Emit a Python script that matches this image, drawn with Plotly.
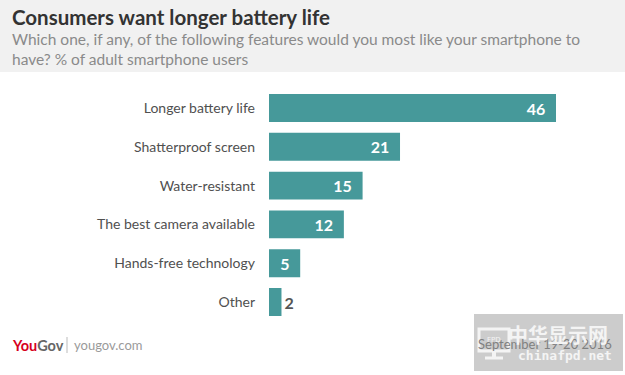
import plotly.graph_objects as go

categories = ["Longer battery life", "Shatterproof screen", "Water-resistant",
              "The best camera available", "Hands-free technology", "Other"]
values = [46, 21, 15, 12, 5, 2]

W, H = 625, 375
x0, x46 = 269, 556
ytop, ybot = 88.6, 321.4

text_pos = ["inside" if v >= 5 else "outside" for v in values]
labels = [f"{v}\u00a0\u00a0" if v >= 5 else str(v) for v in values]

fig = go.Figure(go.Bar(
    x=values, y=categories, orientation="h",
    marker=dict(color="#46999a", line=dict(width=0)),
    text=labels, textposition=text_pos,
    insidetextanchor="end",
    textfont=dict(family="Lato, sans-serif", size=16, color="#ffffff", weight="bold"),
    outsidetextfont=dict(family="Lato, sans-serif", size=16, color="#555555", weight="bold"),
    cliponaxis=False, hoverinfo="skip",
))

fig.update_layout(
    width=W, height=H,
    margin=dict(l=0, r=0, t=0, b=0),
    paper_bgcolor="white", plot_bgcolor="white",
    showlegend=False, bargap=0.28,
    xaxis=dict(domain=[x0 / W, x46 / W], range=[0, 46], visible=False, fixedrange=True),
    yaxis=dict(domain=[1 - ybot / H, 1 - ytop / H], autorange="reversed",
               showgrid=False, zeroline=False, showline=False, ticks="",
               ticklabelstandoff=13, fixedrange=True,
               tickfont=dict(family="Lato, sans-serif", size=14, color="#505050")),
    shapes=[
        dict(type="rect", xref="paper", yref="paper", x0=0, x1=1, y0=1 - 72 / H, y1=1,
             fillcolor="#f1f1f1", line=dict(width=0), layer="below"),
        dict(type="line", xref="paper", yref="paper", x0=67 / W, x1=67 / W,
             y0=1 - 353 / H, y1=1 - 337 / H, line=dict(color="#bbbbbb", width=1)),
        dict(type="rect", xref="paper", yref="paper", x0=474 / W, x1=623 / W,
             y0=1 - 371 / H, y1=1 - 314 / H, fillcolor="rgba(195,195,195,0.85)",
             line=dict(width=0)),
        dict(type="rect", xref="paper", yref="paper", x0=479 / W, x1=509 / W,
             y0=1 - 351 / H, y1=1 - 329 / H, fillcolor="rgba(0,0,0,0)",
             line=dict(color="#f4f4f4", width=3)),
        dict(type="line", xref="paper", yref="paper", x0=494 / W, x1=494 / W,
             y0=1 - 358 / H, y1=1 - 351 / H, line=dict(color="#f4f4f4", width=4)),
        dict(type="line", xref="paper", yref="paper", x0=485 / W, x1=503 / W,
             y0=1 - 358 / H, y1=1 - 358 / H, line=dict(color="#f4f4f4", width=3)),
    ],
    annotations=[
        dict(text="<b>Consumers want longer battery life</b>", xref="paper", yref="paper",
             x=10 / W, y=1 - 3 / H, xanchor="left", yanchor="top", showarrow=False,
             font=dict(family="Lato, sans-serif", size=20.5, color="#333333")),
        dict(text="Which one, if any, of the following features would you most like your smartphone to<br>have? % of adult smartphone users",
             xref="paper", yref="paper", x=10 / W, y=1 - 28 / H, xanchor="left", yanchor="top",
             showarrow=False, align="left",
             font=dict(family="Lato, sans-serif", size=15.5, color="#8a8a8a")),
        dict(text="<b><span style='color:#d6001c'>You</span><span style='color:#666666'>Gov</span></b>",
             xref="paper", yref="paper", x=10 / W, y=1 - 345 / H, xanchor="left", yanchor="middle",
             showarrow=False, font=dict(family="Lato, sans-serif", size=14.5)),
        dict(text="yougov.com", xref="paper", yref="paper", x=72 / W, y=1 - 345 / H,
             xanchor="left", yanchor="middle", showarrow=False,
             font=dict(family="Lato, sans-serif", size=13, color="#9a9a9a")),
        dict(text="September 19-20 2016", xref="paper", yref="paper", x=614 / W, y=1 - 344 / H,
             xanchor="right", yanchor="middle", showarrow=False,
             font=dict(family="Lato, sans-serif", size=13, color="#808080")),
        dict(text="FPD", xref="paper", yref="paper", x=494 / W, y=1 - 340 / H,
             xanchor="center", yanchor="middle", showarrow=False,
             font=dict(family="DejaVu Sans, sans-serif", size=7, color="#f4f4f4")),
        dict(text="<b>中华显示网</b>", xref="paper", yref="paper", x=610 / W, y=1 - 334 / H,
             xanchor="right", yanchor="middle", showarrow=False,
             font=dict(family="Noto Sans CJK SC, sans-serif", size=20, color="#f4f4f4")),
        dict(text="<b>chinafpd.net</b>", xref="paper", yref="paper", x=614 / W, y=1 - 355 / H,
             xanchor="right", yanchor="middle", showarrow=False,
             font=dict(family="DejaVu Sans Mono, monospace", size=13, color="#f4f4f4")),
    ],
)

fig.write_html("out.html", config={"displayModeBar": False, "staticPlot": True},
               post_script="document.body.style.margin='0';document.body.style.overflow='hidden';")
